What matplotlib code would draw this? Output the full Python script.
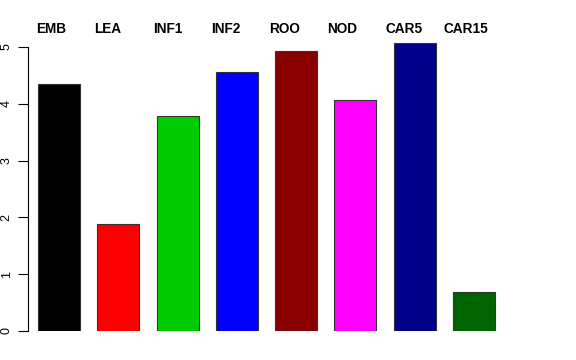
import matplotlib
matplotlib.use('Agg')
import matplotlib.pyplot as plt
import numpy as np

plt.rcParams['font.family'] = ['Liberation Sans', 'DejaVu Sans']

labels = ['EMB', 'LEA', 'INF1', 'INF2', 'ROO', 'NOD', 'CAR5', 'CAR15']
values = [4.35, 1.88, 3.79, 4.56, 4.93, 4.07, 5.07, 0.69]
colors = ['#000000', '#FF0000', '#00CD00', '#0000FF', '#8B0000', '#FF00FF', '#00008B', '#006400']

fig = plt.figure(figsize=(5.76, 3.6), dpi=100)
ax = fig.add_axes([28 / 576, 29 / 360, 1 - 28 / 576, (360 - 29 - 18.6) / 360])

x = np.arange(len(labels))
ax.bar(x, values, width=0.71, color=colors, edgecolor='#333333', linewidth=0.8)

# labels on top, left-ish of each bar
for i, lab in enumerate(labels):
    ax.text(i - 0.38 - 0.02 * i, 5.32, lab, ha='left', va='center',
            fontsize=9.8, fontweight='bold', clip_on=False)

ax.set_xlim(-0.523, 8.72)
ax.set_ylim(0, 5.5)
ax.set_yticks([0, 1, 2, 3, 4, 5])
ax.set_yticklabels(['0', '1', '2', '3', '4', '5'], rotation=90, va='center', fontsize=9)
ax.tick_params(axis='y', length=7, width=0.8, pad=4, colors='#000000')
ax.set_xticks([])
for s in ['top', 'right', 'bottom']:
    ax.spines[s].set_visible(False)
ax.spines['left'].set_bounds(0, 5)
ax.spines['left'].set_linewidth(0.8)

fig.savefig('out.png', dpi=100)
